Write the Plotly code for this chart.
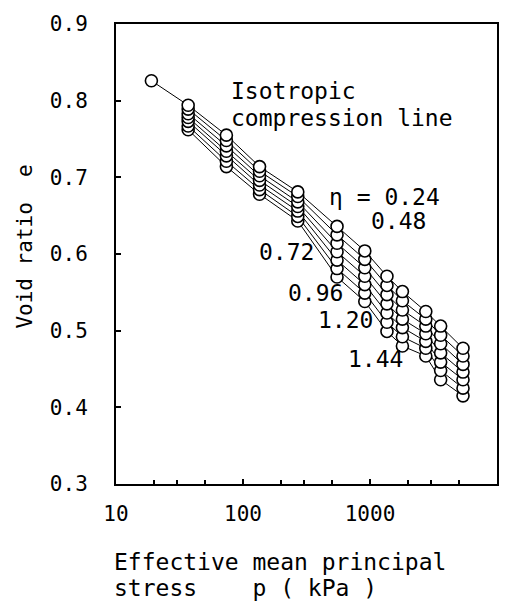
import plotly.graph_objects as go

# Effective mean principal stress p (kPa) at each loading stage
p_start = [19]
e_start = [0.826]
p_stage = [37, 74, 135, 270, 550, 910, 1360, 1800, 2750, 3600, 5400]

# Void ratio e for each stress-ratio path (top to bottom)
e_iso = [0.794, 0.755, 0.714, 0.681, 0.636, 0.604, 0.571, 0.551, 0.525, 0.506, 0.477]
e_024 = [0.789, 0.748, 0.708, 0.675, 0.625, 0.593, 0.559, 0.539, 0.515, 0.494, 0.467]
e_048 = [0.783, 0.741, 0.702, 0.668, 0.614, 0.582, 0.547, 0.527, 0.506, 0.483, 0.456]
e_072 = [0.778, 0.734, 0.696, 0.662, 0.603, 0.571, 0.535, 0.515, 0.496, 0.471, 0.446]
e_096 = [0.773, 0.728, 0.690, 0.656, 0.592, 0.560, 0.523, 0.504, 0.486, 0.459, 0.436]
e_120 = [0.767, 0.721, 0.684, 0.649, 0.581, 0.549, 0.511, 0.492, 0.477, 0.448, 0.425]
e_144 = [0.762, 0.714, 0.678, 0.643, 0.570, 0.538, 0.499, 0.480, 0.467, 0.436, 0.415]

series = [e_iso, e_024, e_048, e_072, e_096, e_120, e_144]
names = ["Isotropic", "0.24", "0.48", "0.72", "0.96", "1.20", "1.44"]

x_tickvals = [10, 100, 1000, 10000]
x_ticktext = ["10", "100", "1000", "10000\u00a0\u00a0\u00a0"]
x_minor = [20, 30, 50, 200, 300, 500, 2000, 3000, 5000]
y_tickvals = [0.3, 0.4, 0.5, 0.6, 0.7, 0.8, 0.9]

FONT = "DejaVu Sans Mono"
W, H = 522, 603
L, R, T, B = 116, 25, 17, 119
PW, PH = W - L - R, H - T - B

def px(xp):
    return (xp - L) / PW

def py(yp):
    return (H - B - yp) / PH

fig = go.Figure()

# lines first
fig.add_trace(go.Scatter(x=p_start + p_stage, y=e_start + e_iso, mode="lines",
                         line=dict(color="black", width=1), showlegend=False,
                         hoverinfo="skip"))
for s in series[1:]:
    fig.add_trace(go.Scatter(x=p_stage, y=s, mode="lines",
                             line=dict(color="black", width=1), showlegend=False,
                             hoverinfo="skip"))

mk = dict(symbol="circle", size=12, color="white", line=dict(color="black", width=1.6))
# markers: bottom series first so upper circles overlap lower ones
for s, n in zip(series[::-1], names[::-1]):
    fig.add_trace(go.Scatter(x=p_stage, y=s, mode="markers", marker=mk,
                             name=n, showlegend=False))
fig.add_trace(go.Scatter(x=p_start, y=e_start, mode="markers", marker=mk,
                         showlegend=False))

anns = [
    ("Isotropic", 229, 85),
    ("compression line", 229, 112),
    ("η = 0.24", 327, 193),
    ("0.48", 369, 217),
    ("0.72", 257, 248),
    ("0.96", 286, 290),
    ("1.20", 316, 317),
    ("1.44", 346, 357),
    ("Effective mean principal", 112, 563),
    ("stress\u00a0\u00a0\u00a0\u00a0p ( kPa )", 112, 590),
]
for text, xl, yc in anns:
    fig.add_annotation(text=text, x=px(xl), y=py(yc), xref="paper", yref="paper",
                       xanchor="left", yanchor="middle", showarrow=False,
                       font=dict(family=FONT, size=23, color="black"))

fig.add_annotation(text="Void ratio\u00a0\u00a0e", x=px(25), y=py(243), xref="paper",
                   yref="paper", xanchor="center", yanchor="middle", textangle=-90,
                   showarrow=False, font=dict(family=FONT, size=21, color="black"))

fig.update_xaxes(type="log", range=[1, 4], tickmode="array", tickvals=x_tickvals,
                 ticktext=x_ticktext, ticks="inside", ticklen=5, tickwidth=1.5,
                 tickcolor="black", showline=True, linecolor="black", linewidth=2,
                 mirror=True, showgrid=False, zeroline=False,
                 tickfont=dict(family=FONT, size=21, color="black"),
                 ticklabelstandoff=10,
                 minor=dict(tickmode="array", tickvals=x_minor, ticks="inside",
                            ticklen=4, tickwidth=1.5, tickcolor="black", showgrid=False))
fig.update_yaxes(range=[0.3, 0.9], tickmode="array", tickvals=y_tickvals,
                 ticks="inside", ticklen=5, tickwidth=1.5, tickcolor="black",
                 showline=True, linecolor="black", linewidth=2, mirror=True,
                 showgrid=False, zeroline=False,
                 tickfont=dict(family=FONT, size=21, color="black"),
                 ticklabelstandoff=22)

fig.update_layout(width=W, height=H, margin=dict(l=L, r=R, t=T, b=B),
                  plot_bgcolor="white", paper_bgcolor="white", showlegend=False)

fig.write_html("out.html")
